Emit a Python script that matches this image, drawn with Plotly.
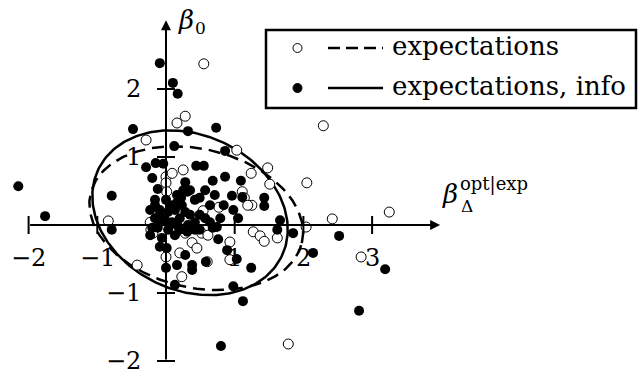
import numpy as np
import plotly.graph_objects as go

# Scatter values (beta_Delta, beta_0)
filled_x = [-0.09, 0.10, 0.17, -0.48, 0.32, 0.73, 0.12, 0.86, -0.15, -0.04,
            0.44, 0.55, -0.29, -0.20, -0.12, -0.79, -2.15, -1.76, -0.79, 0.68,
            0.86, 1.09, 0.28, 0.25, 0.49, 0.16, 0.96, 1.11, 0.98, 1.43,
            1.43, 1.66, 1.62, 1.85, 2.14, 2.52, 3.19, 2.81, 1.12, 0.80,
            1.24, 0.98, 1.03, 0.89, 0.76, 0.74, 0.58, 0.28, 0.16, 0.38,
            0.38, 0.13, 0.00, -0.09, 0.01, 0.84, 1.05, 0.68,
            0.00, 0.06, -0.09, 0.13, 0.28, -0.16, -0.01, 0.09, 0.20, 0.35,
            -0.12, 0.03, 0.17, 0.42, 0.57, -0.23, -0.06, 0.31, 0.49, 0.64,
            0.42, 0.23, -0.23, -0.16, 0.35, 0.57, 0.71,
            -0.16, -0.09, 0.03, 0.15, 0.22, 0.31, 0.06, 0.20, 0.32, 0.42,
            -0.09, -0.20, 0.13, 0.49, 0.64, 0.79]
filled_y = [2.38, 2.09, 1.93, 1.41, 1.38, 1.43, 1.16, 1.09, 0.91, 0.90,
            0.87, 0.87, 0.85, 0.69, 0.53, 0.43, 0.57, 0.13, -0.07, 0.65,
            0.71, 0.65, 0.63, 0.51, 0.40, 0.44, 0.43, 0.41, 0.22, 0.40,
            0.28, 0.07, -0.07, -0.12, -0.41, -0.16, -0.65, -1.26, -1.12, -1.78,
            -0.63, -0.90, -0.50, -0.37, -0.21, -0.03, -0.54, -0.44, -0.59, -0.59,
            -0.66, -0.88, -0.63, -0.32, -0.34, 0.29, 0.10, -0.04,
            0.37, 0.29, 0.22, 0.22, 0.19, 0.10, 0.07, 0.04, 0.10, 0.15,
            -0.04, -0.07, -0.01, 0.04, 0.10, -0.15, -0.19, -0.10, -0.07, 0.29,
            0.37, 0.29, 0.22, 0.37, 0.51, 0.51, 0.44,
            0.29, 0.15, 0.19, 0.32, 0.40, 0.49, 0.00, -0.07, 0.00, -0.07,
            0.04, -0.04, -0.15, 0.15, 0.04, 0.10]

open_x = [0.55, 0.28, 0.16, -0.29, 1.03, 2.29, 1.48, 1.24, 1.51, 2.05,
          1.25, 1.27, 1.37, 1.43, 1.62, 2.04, 2.42, 3.25, 2.84, 1.78,
          0.00, 0.00, 0.01, 0.09, 0.25, 1.11, 1.14, 0.77, 0.54, 1.19,
          -0.84, -0.23, -0.22, 0.00, -0.42, 0.23, -0.19, 0.28, 0.38, 0.45,
          0.52, 0.61, 0.60, 0.93, 0.93, 0.20]
open_y = [2.37, 1.60, 1.50, 1.25, 1.10, 1.46, 0.84, 0.76, 0.60, 0.62,
          0.29, -0.10, -0.16, -0.24, -0.19, -0.03, 0.09, 0.19, -0.47, -1.75,
          0.71, 0.62, 0.49, 0.76, 0.81, 0.49, 0.40, 0.26, 0.21, 0.29,
          0.06, 0.04, -0.07, -0.47, -0.59, -0.76, -0.12, -0.12, -0.26, -0.34,
          -0.12, -0.15, -0.54, -0.25, -0.51, -0.41]

# Ellipses: centre x, centre y, semi-axis a, semi-axis b, rotation (deg)
ellipse_dashed = [0.44, 0.10, 1.58, 1.02, -13.4]
ellipse_solid = [0.35, 0.18, 1.48, 1.14, -25.7]

x_ticks = [-2, -1, 1, 2, 3]
y_ticks = [-2, -1, 1, 2]
legend_labels = ["expectations", "expectations, info"]

W, H = 640, 376
X0PX, Y0PX, UX, UY = 166, 225, 68.7, 68.0   # origin pixel and pixels per unit
FONT = "DejaVu Serif"


def ellipse_points(cx, cy, a, b, deg):
    t = np.linspace(0, 2 * np.pi, 241)
    th = np.radians(deg)
    x = cx + a * np.cos(th) * np.cos(t) - b * np.sin(th) * np.sin(t)
    y = cy + a * np.sin(th) * np.cos(t) + b * np.cos(th) * np.sin(t)
    return x, y


def px(x):
    return x / W


def py(y):
    return 1 - y / H


def label(x, y, text, size, xanchor="center", ref="paper"):
    return dict(x=x, y=y, xref=ref, yref=ref, showarrow=False, text=text,
                xanchor=xanchor, yanchor="middle",
                font=dict(family=FONT, size=size, color="black"))


fig = go.Figure()

# Ellipses
ex, ey = ellipse_points(*ellipse_dashed)
fig.add_trace(go.Scatter(x=ex, y=ey, mode="lines",
                         line=dict(color="black", width=2.5, dash="12px,7px")))
ex, ey = ellipse_points(*ellipse_solid)
fig.add_trace(go.Scatter(x=ex, y=ey, mode="lines",
                         line=dict(color="black", width=2.5)))

# Points
fig.add_trace(go.Scatter(x=open_x, y=open_y, mode="markers",
                         marker=dict(size=10, color="white", line=dict(color="black", width=1))))
fig.add_trace(go.Scatter(x=filled_x, y=filled_y, mode="markers",
                         marker=dict(size=10, color="black", line=dict(width=0))))

annotations = []
shapes = []

# Axes with arrow heads
annotations.append(dict(x=3.99, y=0, ax=-2, ay=0, xref="x", yref="y", axref="x", ayref="y",
                        text="", showarrow=True, arrowhead=2, arrowsize=1, arrowwidth=2,
                        arrowcolor="black", standoff=0, startstandoff=0))
annotations.append(dict(x=0, y=3.01, ax=0, ay=-2, xref="x", yref="y", axref="x", ayref="y",
                        text="", showarrow=True, arrowhead=2, arrowsize=1, arrowwidth=2,
                        arrowcolor="black", standoff=0, startstandoff=0))

# Ticks and tick labels
tx = 9 / UY
for v in x_ticks:
    shapes.append(dict(type="line", x0=v, x1=v, y0=-tx, y1=tx, xref="x", yref="y",
                       line=dict(color="black", width=2)))
    ann = label(v, -0.49, str(v).replace("-", "−"), 24)
    ann.update(xref="x", yref="y")
    annotations.append(ann)
ty = 9 / UX
for v in y_ticks:
    shapes.append(dict(type="line", x0=-ty, x1=ty, y0=v, y1=v, xref="x", yref="y",
                       line=dict(color="black", width=2)))
    ann = label(-23 / UX, v, str(v).replace("-", "−"), 24, xanchor="right")
    ann.update(xref="x", yref="y")
    annotations.append(ann)

# Axis titles
annotations.append(label(px(186), py(20), "<i>β</i>", 26))
annotations.append(label(px(200), py(28), "0", 17))
annotations.append(label(px(450), py(194), "<i>β</i>", 26))
annotations.append(label(px(467), py(206), "Δ", 17))
annotations.append(label(px(458), py(184), "opt|exp", 18, xanchor="left"))

# Hand-drawn legend box
shapes.append(dict(type="rect", xref="paper", yref="paper", x0=px(266), x1=px(636),
                   y0=py(108), y1=py(30), line=dict(color="black", width=2.5),
                   fillcolor="white", layer="above"))
for i, (lab, dash) in enumerate(zip(legend_labels, ["dash", "solid"])):
    yy = 48 + 40 * i
    shapes.append(dict(type="line", xref="paper", yref="paper", x0=px(328), x1=px(383),
                       y0=py(yy), y1=py(yy), layer="above",
                       line=dict(color="black", width=2.5,
                                 dash="12px,6px" if dash == "dash" else "solid")))
    annotations.append(label(px(390), py(yy - 2), lab, 26, xanchor="left"))
    fill = "white" if i == 0 else "black"
    shapes.append(dict(type="circle", xref="paper", yref="paper",
                       x0=px(293), x1=px(302), y0=py(yy + 4.5), y1=py(yy - 4.5),
                       fillcolor=fill, line=dict(color="black", width=1), layer="above"))

fig.update_layout(
    width=W, height=H,
    margin=dict(l=0, r=0, t=0, b=0),
    paper_bgcolor="white", plot_bgcolor="white",
    showlegend=False,
    xaxis=dict(visible=False, range=[-X0PX / UX, (W - X0PX) / UX]),
    yaxis=dict(visible=False, range=[-(H - Y0PX) / UY, Y0PX / UY]),
    shapes=shapes,
    annotations=annotations,
)

# Drop the default page margin so the figure sits at the window's corner
fig.write_html("out.html", config={"displayModeBar": False},
               post_script="document.body.style.margin='0px';")
